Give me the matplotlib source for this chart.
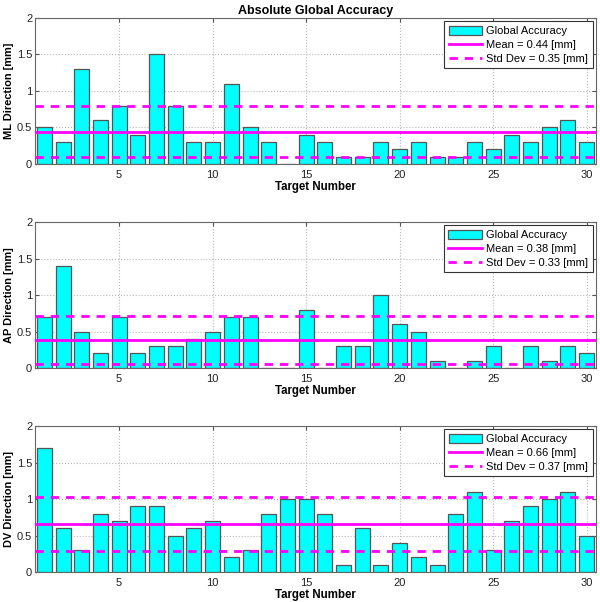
import numpy as np
from matplotlib import pyplot as plt

plt.rcParams['font.family'] = ['Liberation Sans', 'DejaVu Sans']

# target numbers 1..30
targets = list(range(1, 31))

# global accuracy per direction [mm]
ml_vals = [0.5, 0.3, 1.3, 0.6, 0.8, 0.4, 1.5, 0.8, 0.3, 0.3,
           1.1, 0.5, 0.3, 0.0, 0.4, 0.3, 0.1, 0.1, 0.3, 0.2,
           0.3, 0.1, 0.1, 0.3, 0.2, 0.4, 0.3, 0.5, 0.6, 0.3]
ap_vals = [0.7, 1.4, 0.5, 0.2, 0.7, 0.2, 0.3, 0.3, 0.4, 0.5,
           0.7, 0.7, 0.0, 0.0, 0.8, 0.0, 0.3, 0.3, 1.0, 0.6,
           0.5, 0.1, 0.0, 0.1, 0.3, 0.0, 0.3, 0.1, 0.3, 0.2]
dv_vals = [1.7, 0.6, 0.3, 0.8, 0.7, 0.9, 0.9, 0.5, 0.6, 0.7,
           0.2, 0.3, 0.8, 1.0, 1.0, 0.8, 0.1, 0.6, 0.1, 0.4,
           0.2, 0.1, 0.8, 1.1, 0.3, 0.7, 0.9, 1.0, 1.1, 0.5]

names = ['ML', 'AP', 'DV']
means = [0.44, 0.38, 0.66]
stds = [0.35, 0.33, 0.37]
series = [ml_vals, ap_vals, dv_vals]

fig = plt.figure(figsize=(6.0, 6.02), dpi=100)
boxes = [[0.0583, 0.7276, 0.935, 0.2425],
         [0.0583, 0.3887, 0.935, 0.2425],
         [0.0583, 0.0498, 0.935, 0.2425]]

for i in range(3):
    ax = fig.add_axes(boxes[i])
    b = ax.bar(targets, series[i], width=0.8, color='#00FFFF', edgecolor='#555555',
               linewidth=0.9, zorder=2)
    m = means[i]
    s = stds[i]
    l1 = ax.axhline(m, color='#FF00FF', lw=2, zorder=3)
    l2 = ax.axhline(m + s, color='#FF00FF', lw=2, ls=(0, (3, 2.5)), zorder=3)
    ax.axhline(m - s, color='#FF00FF', lw=2, ls=(0, (3, 2.5)), zorder=3)

    ax.set_xlim(0.5, 30.5)
    ax.set_ylim(0, 2)
    ax.set_xticks([5, 10, 15, 20, 25, 30])
    ax.set_yticks([0, 0.5, 1, 1.5, 2])
    ax.set_yticklabels(['0', '0.5', '1', '1.5', '2'])
    ax.grid(True, ls=':', color='#b8b8b8', lw=0.8, zorder=0)
    ax.set_axisbelow(True)
    ax.tick_params(direction='in', labelsize=8, length=3, colors='#555555',
                   labelcolor='#222222', top=True, right=True)
    ax.tick_params(axis='y', pad=2)
    ax.tick_params(axis='x', pad=4)
    for sp in ax.spines.values():
        sp.set_color('#666666')
        sp.set_linewidth(0.8)
    ax.set_xlabel('Target Number', fontsize=8.3, fontweight='bold')
    ax.set_ylabel(names[i] + ' Direction [mm]', fontsize=7.9, fontweight='bold')
    ax.xaxis.set_label_coords(0.5, -0.118)
    ax.yaxis.set_label_coords(-0.037, 0.5)
    leg = ax.legend([b, l1, l2],
                    ['Global Accuracy', 'Mean = %.2f [mm]' % m, 'Std Dev = %.2f [mm]' % s],
                    loc='upper right', fontsize=8, fancybox=False, framealpha=1,
                    edgecolor='#333333', handlelength=3.0, handleheight=0.9,
                    borderpad=0.4, labelspacing=0.3, handletextpad=0.4,
                    borderaxespad=0.3)
    leg.get_frame().set_linewidth(0.8)
    if i == 0:
        ax.set_title('Absolute Global Accuracy', fontsize=9, fontweight='bold', pad=3)

fig.savefig('out.png', dpi=100)
